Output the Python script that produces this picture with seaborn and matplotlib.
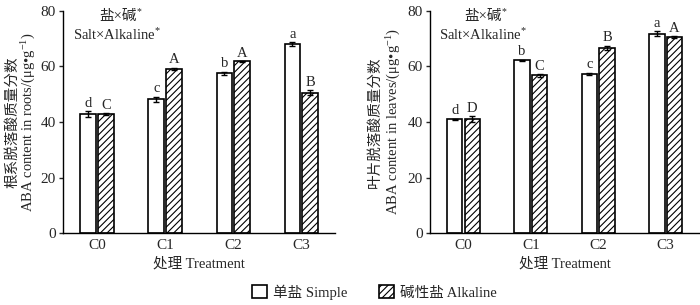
import matplotlib
matplotlib.use("Agg")
import matplotlib.pyplot as plt
import pandas as pd
import seaborn as sns
from matplotlib.patches import Patch

categories = ["C0", "C1", "C2", "C3"]
series_names = ["单盐 Simple", "碱性盐 Alkaline"]

roots_simple = [42.8, 48.2, 57.6, 68.1]
roots_simple_err = [1.0, 0.9, 0.5, 0.7]
roots_alkaline = [42.8, 59.1, 61.8, 50.6]
roots_alkaline_err = [0.3, 0.4, 0.2, 0.8]
roots_simple_letters = ["d", "c", "b", "a"]
roots_alkaline_letters = ["C", "A", "A", "B"]

leaves_simple = [41.0, 62.2, 57.3, 71.8]
leaves_simple_err = [0.2, 0.3, 0.5, 0.9]
leaves_alkaline = [41.0, 56.8, 66.8, 70.6]
leaves_alkaline_err = [1.0, 0.5, 0.7, 0.3]
leaves_simple_letters = ["d", "b", "c", "a"]
leaves_alkaline_letters = ["D", "C", "B", "A"]

yticks = [0, 20, 40, 60, 80]

SERIF = ["Liberation Serif", "Noto Sans CJK SC", "DejaVu Sans"]

sns.set_theme(style="ticks")
plt.rcParams["font.family"] = SERIF
plt.rcParams["mathtext.fontset"] = "custom"
plt.rcParams["mathtext.rm"] = "Liberation Serif"
plt.rcParams["mathtext.it"] = "Liberation Serif:italic"
plt.rcParams["hatch.linewidth"] = 0.8
plt.rcParams["hatch.color"] = "black"


def _frame(simple, alkaline):
    return pd.DataFrame(
        {
            "treatment": categories * 2,
            "kind": [series_names[0]] * 4 + [series_names[1]] * 4,
            "value": list(simple) + list(alkaline),
        }
    )


def _panel(ax, simple, s_err, alkaline, a_err, s_let, a_let, cn_label, en_label, cn_x, en_x, title_x):
    df = _frame(simple, alkaline)
    sns.barplot(
        data=df, x="treatment", y="value", hue="kind", order=categories, hue_order=series_names,
        palette={series_names[0]: "white", series_names[1]: "white"},
        edgecolor="black", linewidth=1.2, width=0.52, gap=0.12, errorbar=None,
        legend=False, ax=ax,
    )
    for bar in ax.containers[1]:
        bar.set_hatch("/////")

    for cont, errs, lets in [(ax.containers[0], s_err, s_let), (ax.containers[1], a_err, a_let)]:
        for bar, e, lab in zip(cont, errs, lets):
            cx = bar.get_x() + bar.get_width() / 2
            h = bar.get_height()
            ax.errorbar(cx, h, yerr=e, fmt="none", ecolor="black", elinewidth=1.0, capsize=2.5, capthick=1.0)
            ax.annotate(lab, (cx, h + e), xytext=(0, 1), textcoords="offset points",
                        ha="center", va="bottom", fontsize=10.5)

    ax.set_xlim(-0.5, 3.5)
    ax.set_ylim(0, 80)
    ax.set_yticks(yticks)
    ax.tick_params(axis="y", direction="out", length=3, width=1, labelsize=11, pad=2)
    ax.tick_params(axis="x", length=0, labelsize=11, pad=4)
    sns.despine(ax=ax)
    for s in ["left", "bottom"]:
        ax.spines[s].set_linewidth(1.0)
        ax.spines[s].set_color("black")
    ax.set_xlabel("处理 Treatment", fontsize=10.5, labelpad=4)
    ax.set_ylabel("")

    ax.text(cn_x, 0.5, cn_label, transform=ax.transAxes, rotation=90, ha="center", va="center", fontsize=10.5)
    ax.text(en_x, 0.5, en_label, transform=ax.transAxes, rotation=90, ha="center", va="center", fontsize=10.5)

    ax.text(title_x + 0.07, 0.975, "盐×碱", transform=ax.transAxes, ha="right", va="center", fontsize=10.5)
    ax.text(title_x + 0.07, 0.995, "*", transform=ax.transAxes, ha="left", va="center", fontsize=7)
    ax.text(title_x, 0.89, "Salt×Alkaline$^{*}$", transform=ax.transAxes, ha="center", va="center", fontsize=10.5)


fig = plt.figure(figsize=(7.0, 3.05), dpi=100)
ax1 = fig.add_axes([0.09, 0.236, 0.389, 0.728])
ax2 = fig.add_axes([0.614, 0.236, 0.385, 0.728])

_panel(ax1, roots_simple, roots_simple_err, roots_alkaline, roots_alkaline_err,
       roots_simple_letters, roots_alkaline_letters,
       "根系脱落酸质量分数", "ABA content in roots/(μg•g$^{-1}$)", -0.184, -0.125, 0.2)
_panel(ax2, leaves_simple, leaves_simple_err, leaves_alkaline, leaves_alkaline_err,
       leaves_simple_letters, leaves_alkaline_letters,
       "叶片脱落酸质量分数", "ABA content in leaves/(μg•g$^{-1}$)", -0.204, -0.135, 0.196)

handles = [
    Patch(facecolor="white", edgecolor="black", linewidth=1.2, label=series_names[0]),
    Patch(facecolor="white", edgecolor="black", linewidth=1.2, hatch="/////", label=series_names[1]),
]
fig.legend(handles=handles, loc="lower center", bbox_to_anchor=(0.535, -0.025), ncol=2, frameon=False,
           fontsize=10.5, handlelength=1.0, handleheight=1.0, handletextpad=0.4, columnspacing=2.2)

fig.savefig("out.png", dpi=100)
